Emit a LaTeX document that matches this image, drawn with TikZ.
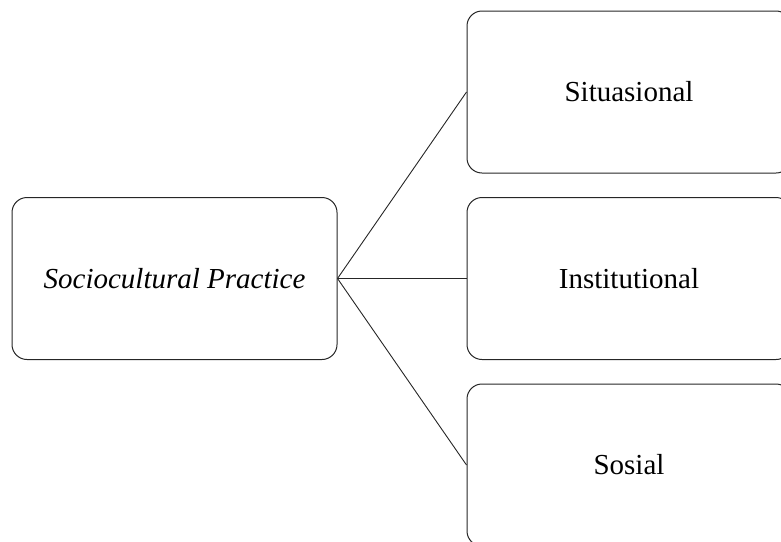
\documentclass[tikz,border=0pt]{standalone}
\usepackage{fontspec}
\setmainfont{Liberation Serif}
\begin{document}
\begin{tikzpicture}[x=1pt,y=-1pt,
  box/.style={draw=black!85, line width=1pt, rounded corners=15pt, minimum width=324pt, minimum height=162pt, inner sep=0pt, font=\fontsize{29}{34}\selectfont},
  link/.style={draw=black!85, line width=0.9pt}]
\useasboundingbox (0,0) rectangle (781,541);
\node[box, minimum width=325pt] (sp) at (174.5,278.5) {\textit{Sociocultural Practice}};
\node[box] (sit) at (629,92) {Situasional};
\node[box] (ins) at (629,278.5) {Institutional};
\node[box] (sos) at (629,465) {Sosial};
\draw[link] (sp.east) -- (sit.west);
\draw[link] (sp.east) -- (ins.west);
\draw[link] (sp.east) -- (sos.west);
\end{tikzpicture}
\end{document}
